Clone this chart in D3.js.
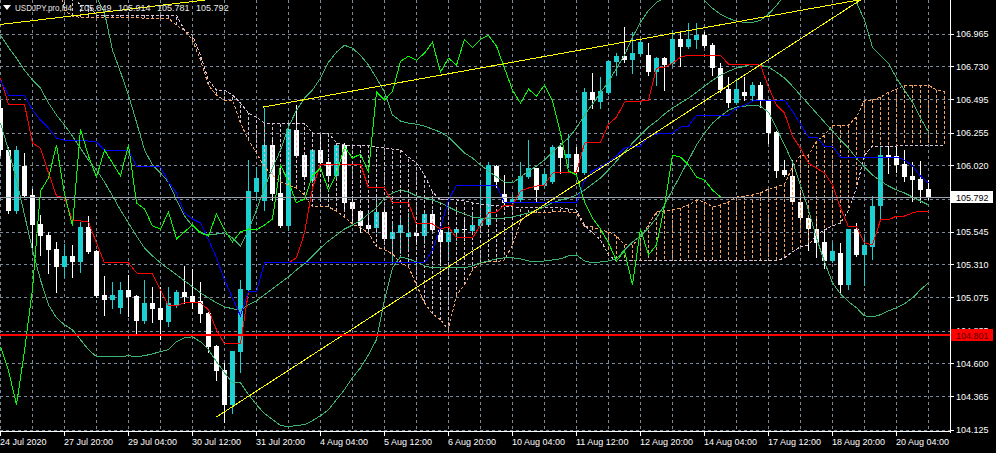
<!DOCTYPE html>
<html><head><meta charset="utf-8">
<script src="https://cdn.jsdelivr.net/npm/d3@7"></script>
<style>body{margin:0;background:#000;overflow:hidden}svg{display:block}text{font-family:'Liberation Sans',Arial,sans-serif}</style>
</head><body><svg id="c" width="996" height="453"></svg>
<script>
const symbol = "USDJPY.pro,H4";
const timeLabelBars = [0,8,16,24,32,40,48,56,64,72,80,88,96,104,112];
const timeLabels = ["24 Jul 2020","27 Jul 20:00","29 Jul 04:00","30 Jul 12:00","31 Jul 20:00","4 Aug 04:00","5 Aug 12:00","6 Aug 20:00","10 Aug 04:00","11 Aug 12:00","12 Aug 20:00","14 Aug 04:00","17 Aug 12:00","18 Aug 20:00","20 Aug 04:00"];
const priceTicks = [106.965,106.730,106.495,106.255,106.020,105.780,105.545,105.310,105.075,104.835,104.600,104.365,104.125];
const currentPrice = 105.792;
const redLevel = 104.801;

const open = [106.430,106.129,105.692,106.014,105.807,105.599,105.520,105.420,105.291,105.370,105.327,105.578,105.406,105.091,105.055,104.998,105.127,105.084,104.905,105.034,104.998,104.897,105.012,105.112,105.084,105.048,104.962,104.726,104.554,104.303,104.683,105.127,105.828,105.764,106.165,105.821,105.585,106.272,106.093,105.907,106.129,106.043,105.943,106.165,105.757,105.692,105.592,105.571,105.685,105.492,105.535,105.506,105.535,105.513,105.671,105.556,105.470,105.535,105.563,105.549,105.585,105.592,106.014,105.814,105.750,105.771,105.936,106.000,105.871,105.900,106.150,106.072,106.100,105.964,106.544,106.473,106.537,106.759,106.802,106.773,106.816,106.809,106.687,106.788,106.745,106.924,106.866,106.917,106.952,106.881,106.716,106.566,106.466,106.544,106.516,106.594,106.480,106.258,105.986,105.943,105.757,105.642,105.563,105.470,105.334,105.392,105.162,105.563,105.377,105.434,105.728,106.093,106.086,106.029,105.943,105.921,105.849];
const high = [106.487,106.150,106.158,106.108,105.850,105.664,105.542,105.470,105.456,105.449,105.613,105.656,105.413,105.227,105.184,105.184,105.234,105.091,105.198,105.148,105.148,105.148,105.127,105.298,105.277,105.184,104.969,104.733,104.604,104.690,105.198,106.057,106.007,106.430,106.222,106.000,106.308,106.451,106.093,106.129,106.222,106.072,106.179,106.179,105.792,105.699,105.642,105.792,105.721,105.606,105.649,105.678,105.606,105.699,105.699,105.592,105.571,105.578,105.649,105.664,105.914,106.043,106.022,105.950,105.807,106.043,106.201,106.000,106.000,106.165,106.179,106.244,106.150,106.573,106.680,106.652,106.773,106.824,107.010,106.974,106.917,106.895,106.795,106.795,106.988,106.974,107.038,107.038,106.974,106.895,106.752,106.652,106.645,106.652,106.616,106.616,106.487,106.265,106.057,106.057,105.821,105.649,105.649,105.556,105.463,105.463,105.563,105.606,105.506,105.800,106.150,106.158,106.165,106.129,106.043,106.050,105.914];
const low = [106.093,105.678,105.678,105.792,105.434,105.377,105.248,105.112,105.220,105.220,105.255,105.392,105.076,104.948,104.998,104.962,104.940,104.819,104.890,104.897,104.776,104.869,105.005,105.034,104.998,104.897,104.683,104.482,104.181,104.246,104.539,105.120,105.771,105.699,105.771,105.578,105.556,106.086,105.929,105.900,106.022,105.929,105.936,105.714,105.628,105.542,105.535,105.542,105.485,105.320,105.392,105.427,105.463,105.463,105.535,105.306,105.341,105.485,105.485,105.535,105.578,105.585,105.864,105.742,105.735,105.757,105.929,105.757,105.864,105.893,105.964,106.007,105.964,105.957,106.430,106.430,106.530,106.666,106.759,106.680,106.809,106.666,106.594,106.559,106.738,106.730,106.859,106.859,106.866,106.666,106.544,106.437,106.458,106.487,106.487,106.437,106.179,105.936,105.943,105.750,105.628,105.413,105.363,105.284,105.327,105.105,105.134,105.370,105.162,105.349,105.635,105.964,105.971,105.907,105.764,105.757,105.781];
const close = [106.129,105.692,106.129,105.800,105.592,105.513,105.413,105.291,105.370,105.327,105.578,105.399,105.084,105.055,105.091,105.127,105.077,104.905,105.034,104.991,104.912,105.034,105.112,105.077,105.041,104.955,104.718,104.547,104.303,104.690,105.134,105.835,105.929,106.165,105.814,105.585,106.279,106.086,105.936,106.129,106.036,105.943,106.165,105.750,105.707,105.585,105.563,105.685,105.492,105.542,105.592,105.535,105.513,105.671,105.556,105.470,105.542,105.563,105.556,105.592,105.635,106.022,105.900,105.750,105.778,105.943,106.000,105.843,105.957,106.150,106.072,106.100,105.971,106.544,106.487,106.551,106.766,106.802,106.773,106.824,106.902,106.687,106.788,106.738,106.924,106.866,106.924,106.952,106.874,106.716,106.559,106.466,106.566,106.516,106.594,106.480,106.251,105.979,105.950,105.757,105.642,105.563,105.463,105.334,105.406,105.162,105.563,105.377,105.449,105.728,106.093,106.079,106.022,105.936,105.914,105.843,105.792];

const tenkan = [106.645,106.458,106.458,106.458,106.179,106.143,105.964,105.800,105.785,105.628,105.621,105.613,105.463,105.320,105.320,105.320,105.320,105.248,105.241,105.241,105.127,105.012,105.012,105.034,105.034,105.034,104.983,104.840,104.740,104.740,104.740,105.112,105.112,105.320,105.320,105.320,105.320,105.356,105.535,105.857,106.029,106.029,106.029,106.029,106.029,106.029,105.857,105.857,105.857,105.750,105.750,105.750,105.599,105.599,105.599,105.563,105.578,105.499,105.499,105.499,105.592,105.678,105.685,105.735,105.735,105.835,105.857,105.871,105.878,105.964,105.971,105.971,105.971,106.179,106.186,106.186,106.315,106.365,106.473,106.480,106.480,106.487,106.716,106.723,106.752,106.795,106.809,106.809,106.809,106.809,106.809,106.745,106.745,106.745,106.745,106.738,106.580,106.451,106.394,106.229,106.143,106.036,106.000,105.964,105.878,105.714,105.578,105.578,105.463,105.449,105.628,105.628,105.656,105.656,105.678,105.692,105.692];
const kijun = [106.630,106.523,106.523,106.523,106.415,106.344,106.287,106.215,106.201,106.201,106.201,106.193,106.186,106.129,106.129,106.129,106.129,106.014,106.014,106.014,106.007,105.900,105.821,105.678,105.635,105.606,105.485,105.356,105.198,105.069,104.940,105.112,105.112,105.320,105.320,105.320,105.320,105.320,105.320,105.320,105.320,105.320,105.320,105.320,105.320,105.320,105.320,105.320,105.320,105.320,105.320,105.320,105.320,105.320,105.413,105.571,105.771,105.878,105.878,105.878,105.878,105.878,105.878,105.750,105.750,105.750,105.750,105.750,105.750,105.750,105.750,105.750,105.750,105.914,105.979,106.007,106.043,106.086,106.143,106.158,106.158,106.229,106.244,106.251,106.251,106.294,106.301,106.380,106.380,106.380,106.380,106.380,106.430,106.451,106.480,106.487,106.487,106.487,106.487,106.408,106.315,106.222,106.222,106.158,106.158,106.079,106.079,106.079,106.079,106.079,106.079,106.079,106.079,106.057,106.014,105.943,105.893];
const spanA = [107.418,107.418,107.418,107.418,107.418,107.418,107.418,107.418,107.131,107.088,107.081,107.081,107.081,107.081,107.081,107.081,107.081,107.081,107.074,107.074,107.074,107.074,107.024,106.988,106.917,106.773,106.594,106.523,106.487,106.487,106.322,106.201,106.108,106.007,105.950,105.900,105.878,105.857,105.807,105.721,105.721,105.721,105.692,105.649,105.599,105.571,105.535,105.435,105.413,105.384,105.320,105.291,105.162,105.034,104.955,104.912,104.840,105.091,105.162,105.270,105.320,105.327,105.327,105.341,105.449,105.613,105.678,105.678,105.678,105.685,105.685,105.685,105.678,105.578,105.578,105.556,105.542,105.513,105.449,105.449,105.499,105.592,105.685,105.692,105.699,105.714,105.735,105.771,105.757,105.721,105.735,105.757,105.792,105.800,105.807,105.821,105.850,105.864,105.886,106.007,106.093,106.093,106.193,106.236,106.308,106.308,106.308,106.365,106.487,106.487,106.508,106.544,106.566,106.594,106.594,106.594,106.594,106.559,106.551];
const spanB = [107.418,107.418,107.418,107.418,107.418,107.418,107.418,107.418,107.275,107.239,107.167,107.167,107.096,107.096,107.096,107.096,107.096,107.096,107.096,107.096,107.096,107.096,107.096,106.988,106.952,106.809,106.630,106.559,106.559,106.523,106.466,106.394,106.365,106.322,106.322,106.322,106.322,106.322,106.322,106.251,106.251,106.251,106.179,106.165,106.165,106.165,106.165,106.150,106.143,106.136,106.129,106.079,106.036,105.950,105.828,105.771,105.771,105.771,105.764,105.750,105.742,105.735,105.735,105.721,105.721,105.714,105.714,105.714,105.714,105.714,105.714,105.707,105.699,105.592,105.535,105.485,105.377,105.334,105.334,105.334,105.334,105.334,105.334,105.334,105.334,105.334,105.334,105.334,105.334,105.334,105.334,105.334,105.334,105.334,105.334,105.334,105.334,105.334,105.356,105.399,105.435,105.449,105.520,105.556,105.585,105.606,105.699,105.857,106.093,106.158,106.158,106.158,106.158,106.165,106.165,106.165,106.165,106.165,106.165];
const bbUpper = [107.633,107.597,107.561,107.525,107.489,107.454,107.418,107.382,107.346,107.310,107.275,107.246,107.224,107.117,106.845,106.688,106.523,106.329,106.129,106.022,105.964,105.900,105.771,105.656,105.585,105.542,105.520,105.527,105.535,105.499,105.442,105.556,105.699,105.857,106.000,106.129,106.294,106.415,106.501,106.559,106.645,106.759,106.831,106.881,106.859,106.809,106.738,106.645,106.544,106.380,106.337,106.322,106.315,106.301,106.279,106.258,106.222,106.165,106.108,106.072,106.022,105.979,105.936,105.900,105.893,105.936,105.979,106.014,106.057,106.115,106.165,106.215,106.287,106.380,106.458,106.544,106.616,106.716,106.809,106.938,107.045,107.131,107.189,107.217,107.239,107.260,107.260,107.239,107.203,107.146,107.103,107.074,107.053,107.045,107.045,107.060,107.103,107.167,107.239,107.310,107.361,107.389,107.403,107.403,107.382,107.346,107.296,107.189,107.060,106.866,106.809,106.752,106.645,106.559,106.473,106.358,106.258];
const bbMiddle = [106.952,106.866,106.788,106.702,106.630,106.573,106.466,106.380,106.308,106.229,106.143,106.057,105.986,105.900,105.800,105.699,105.606,105.513,105.427,105.370,105.320,105.277,105.234,105.191,105.148,105.105,105.069,105.034,105.005,104.991,104.983,105.019,105.048,105.091,105.134,105.177,105.220,105.270,105.313,105.370,105.427,105.477,105.520,105.563,105.592,105.621,105.671,105.714,105.785,105.821,105.843,105.828,105.800,105.785,105.771,105.750,105.721,105.692,105.671,105.649,105.642,105.635,105.635,105.642,105.649,105.664,105.678,105.699,105.721,105.750,105.771,105.785,105.807,105.843,105.886,105.929,105.986,106.050,106.115,106.179,106.236,106.294,106.337,106.387,106.430,106.466,106.501,106.544,106.587,106.630,106.666,106.695,106.716,106.730,106.745,106.738,106.723,106.688,106.645,106.587,106.523,106.458,106.394,106.329,106.265,106.201,106.143,106.072,106.007,105.950,105.907,105.871,105.843,105.821,105.792,105.764,105.735];
const bbLower = [106.322,106.129,105.914,105.664,105.413,105.198,105.019,104.926,104.876,104.840,104.769,104.697,104.647,104.647,104.647,104.647,104.654,104.647,104.654,104.668,104.683,104.697,104.754,104.783,104.790,104.754,104.697,104.611,104.532,104.461,104.461,104.375,104.303,104.239,104.196,104.153,104.146,104.153,104.160,104.189,104.224,104.267,104.339,104.411,104.497,104.568,104.661,104.769,105.055,105.284,105.363,105.349,105.327,105.298,105.284,105.284,105.284,105.284,105.284,105.298,105.320,105.334,105.349,105.356,105.356,105.349,105.334,105.327,105.334,105.341,105.349,105.370,105.377,105.334,105.320,105.327,105.334,105.349,105.413,105.470,105.513,105.571,105.642,105.735,105.843,105.950,106.057,106.165,106.251,106.322,106.372,106.415,106.437,106.444,106.451,106.444,106.401,106.287,106.165,106.043,105.878,105.699,105.499,105.327,105.177,105.098,105.041,104.998,104.940,104.933,104.948,104.976,104.998,105.026,105.069,105.127,105.177];
const chikouShift = 26;
const trendLines = [
  {i1:-2, p1:107.016, i2:26, p2:107.208},
  {i1:32.8, p1:106.437, i2:108, p2:107.213},
  {i1:27.0, p1:104.215, i2:108, p2:107.224}
];

const PW = 950, PH = 432;
const x = d3.scaleLinear().domain([0,116]).range([0.5, 928.5]);
const y = d3.scaleLinear().domain([104.125,106.965]).range([429.5,33.5]);
const fmt = d3.format(".3f");
const svg = d3.select('#c');
svg.append('rect').attr('width',996).attr('height',453).attr('fill','#000');
const defs = svg.append('defs');
defs.append('clipPath').attr('id','plot').append('rect').attr('x',0).attr('y',0).attr('width',PW).attr('height',PH);
defs.append('clipPath').attr('id','hidelab').append('rect').attr('x',951).attr('y',0).attr('width',45).attr('height',Math.round(y(redLevel))-6);
const g = svg.append('g').attr('clip-path','url(#plot)').attr('shape-rendering','crispEdges');
const gridColor = '#7b8a9b';
// grid
g.selectAll('line.hg').data(priceTicks).join('line').attr('class','hg')
  .attr('x1',0).attr('x2',PW).attr('y1',d=>Math.round(y(d))+0.5).attr('y2',d=>Math.round(y(d))+0.5)
  .attr('stroke',gridColor).attr('stroke-dasharray','3,3');
g.selectAll('line.vg').data(d3.range(0,117,4)).join('line').attr('class','vg')
  .attr('x1',d=>x(d)).attr('x2',d=>x(d)).attr('y1',0).attr('y2',PH)
  .attr('stroke',gridColor).attr('stroke-dasharray','3,3');

// candles
const idx = d3.range(open.length);
const up = '#1ccfd0';
g.selectAll('line.wick').data(idx).join('line').attr('class','wick')
  .attr('x1',i=>x(i)).attr('x2',i=>x(i))
  .attr('y1',i=>Math.round(y(high[i]))).attr('y2',i=>Math.round(y(low[i]))+1)
  .attr('stroke',i=>close[i]>=open[i]?up:'#fff');
g.selectAll('rect.body').data(idx).join('rect').attr('class','body')
  .attr('x',i=>x(i)-2.5).attr('width',5)
  .attr('y',i=>Math.round(y(Math.max(open[i],close[i]))))
  .attr('height',i=>Math.max(1,Math.round(y(Math.min(open[i],close[i])))-Math.round(y(Math.max(open[i],close[i])))))
  .attr('fill',i=>close[i]>=open[i]?up:'#fff');

// cloud
const cIdx = d3.range(spanA.length);
const orange = '#f4a460', thistle = '#d8bfd8';
g.selectAll('line.hatch').data(cIdx).join('line').attr('class','hatch')
  .attr('x1',i=>x(i)).attr('x2',i=>x(i)).attr('y1',i=>y(spanA[i])).attr('y2',i=>y(spanB[i]))
  .attr('stroke',i=>spanA[i]>=spanB[i]?orange:thistle).attr('stroke-dasharray','3,2');
const line = d3.line().x(d=>x(d[0])).y(d=>y(d[1]));
function path(arr, color, dash, start=0){
  g.append('path').attr('d', line(arr.map((v,i)=>[i+start,v]))).attr('fill','none')
   .attr('stroke',color).attr('stroke-width',1).attr('stroke-dasharray',dash||null);
}
path(spanA, orange, '3,2');
path(spanB, thistle, '3,2');
// Bollinger
const bbColor = '#3cb371';
path(bbUpper, bbColor); path(bbMiddle, bbColor); path(bbLower, bbColor);
// Ichimoku lines
path(tenkan, '#ff0000');
path(kijun, '#0000ff');
path(close.slice(chikouShift), '#00ff00');
// trend lines
g.selectAll('line.tl').data(trendLines).join('line').attr('class','tl')
  .attr('x1',d=>x(d.i1)).attr('y1',d=>y(d.p1)).attr('x2',d=>x(d.i2)).attr('y2',d=>y(d.p2))
  .attr('stroke','#ffff00');
// horizontal levels
g.append('line').attr('x1',0).attr('x2',PW).attr('y1',Math.round(y(redLevel))).attr('y2',Math.round(y(redLevel)))
  .attr('stroke','#ff0000').attr('stroke-width',2);
g.append('line').attr('x1',0).attr('x2',PW).attr('y1',Math.round(y(currentPrice))+0.5).attr('y2',Math.round(y(currentPrice))+0.5)
  .attr('stroke','#9aa3ab');

// axes frame
const ax = svg.append('g').attr('shape-rendering','crispEdges');
ax.append('line').attr('x1',PW+0.5).attr('x2',PW+0.5).attr('y1',0).attr('y2',PH+0.5).attr('stroke','#fff');
ax.append('line').attr('x1',0).attr('x2',PW+0.5).attr('y1',PH-0.5).attr('y2',PH-0.5).attr('stroke','#fff');
// price labels
ax.selectAll('line.pt').data(priceTicks).join('line').attr('class','pt')
  .attr('x1',PW).attr('x2',PW+4).attr('y1',d=>Math.round(y(d))+0.5).attr('y2',d=>Math.round(y(d))+0.5).attr('stroke','#fff');
const hidden = p => Math.abs(y(p)-y(redLevel))<9 || Math.abs(y(p)-y(currentPrice))<9;
svg.selectAll('text.pl').data(priceTicks).join('text').attr('class','pl')
  .attr('x',956).attr('y',d=>y(d)+3.5).attr('fill','#fff').attr('font-size','9px')
  .attr('clip-path',d=>hidden(d)?'url(#hidelab)':null).text(d=>fmt(d));
// time labels
ax.selectAll('line.tt').data(timeLabelBars).join('line').attr('class','tt')
  .attr('x1',d=>x(d)).attr('x2',d=>x(d)).attr('y1',PH-0.5).attr('y2',PH+4).attr('stroke','#fff');
svg.selectAll('text.tl').data(timeLabelBars).join('text').attr('class','tl')
  .attr('x',d=>x(d)-0.5).attr('y',445).attr('fill','#fff').attr('font-size','9px').text((d,k)=>timeLabels[k]);
// current price box
svg.append('rect').attr('x',951).attr('y',Math.round(y(currentPrice))-6).attr('width',42).attr('height',12).attr('fill','#fff');
svg.append('text').attr('x',956).attr('y',y(currentPrice)+3.5).attr('fill','#000').attr('font-size','9px').text(fmt(currentPrice));
svg.append('rect').attr('x',951).attr('y',Math.round(y(redLevel))-6).attr('width',42).attr('height',12).attr('fill','#ff0000');
svg.append('text').attr('x',956).attr('y',y(redLevel)+3.5).attr('fill','#5a0000').attr('font-size','9px').text(fmt(redLevel));
// header
const last = open.length-1;
svg.append('path').attr('d','M3,5 L11,5 L7,10 Z').attr('fill','#fff');
svg.append('text').attr('x',15).attr('y',11).attr('fill','#e6e6e6').attr('font-size','9px')
  .attr('textLength',57).attr('lengthAdjust','spacingAndGlyphs').text(symbol);
svg.append('text').attr('x',79).attr('y',11).attr('fill','#e6e6e6').attr('font-size','9px')
  .attr('word-spacing','4px')
  .text([open[last],high[last],low[last],close[last]].map(fmt).join(' '));
</script></body></html>
